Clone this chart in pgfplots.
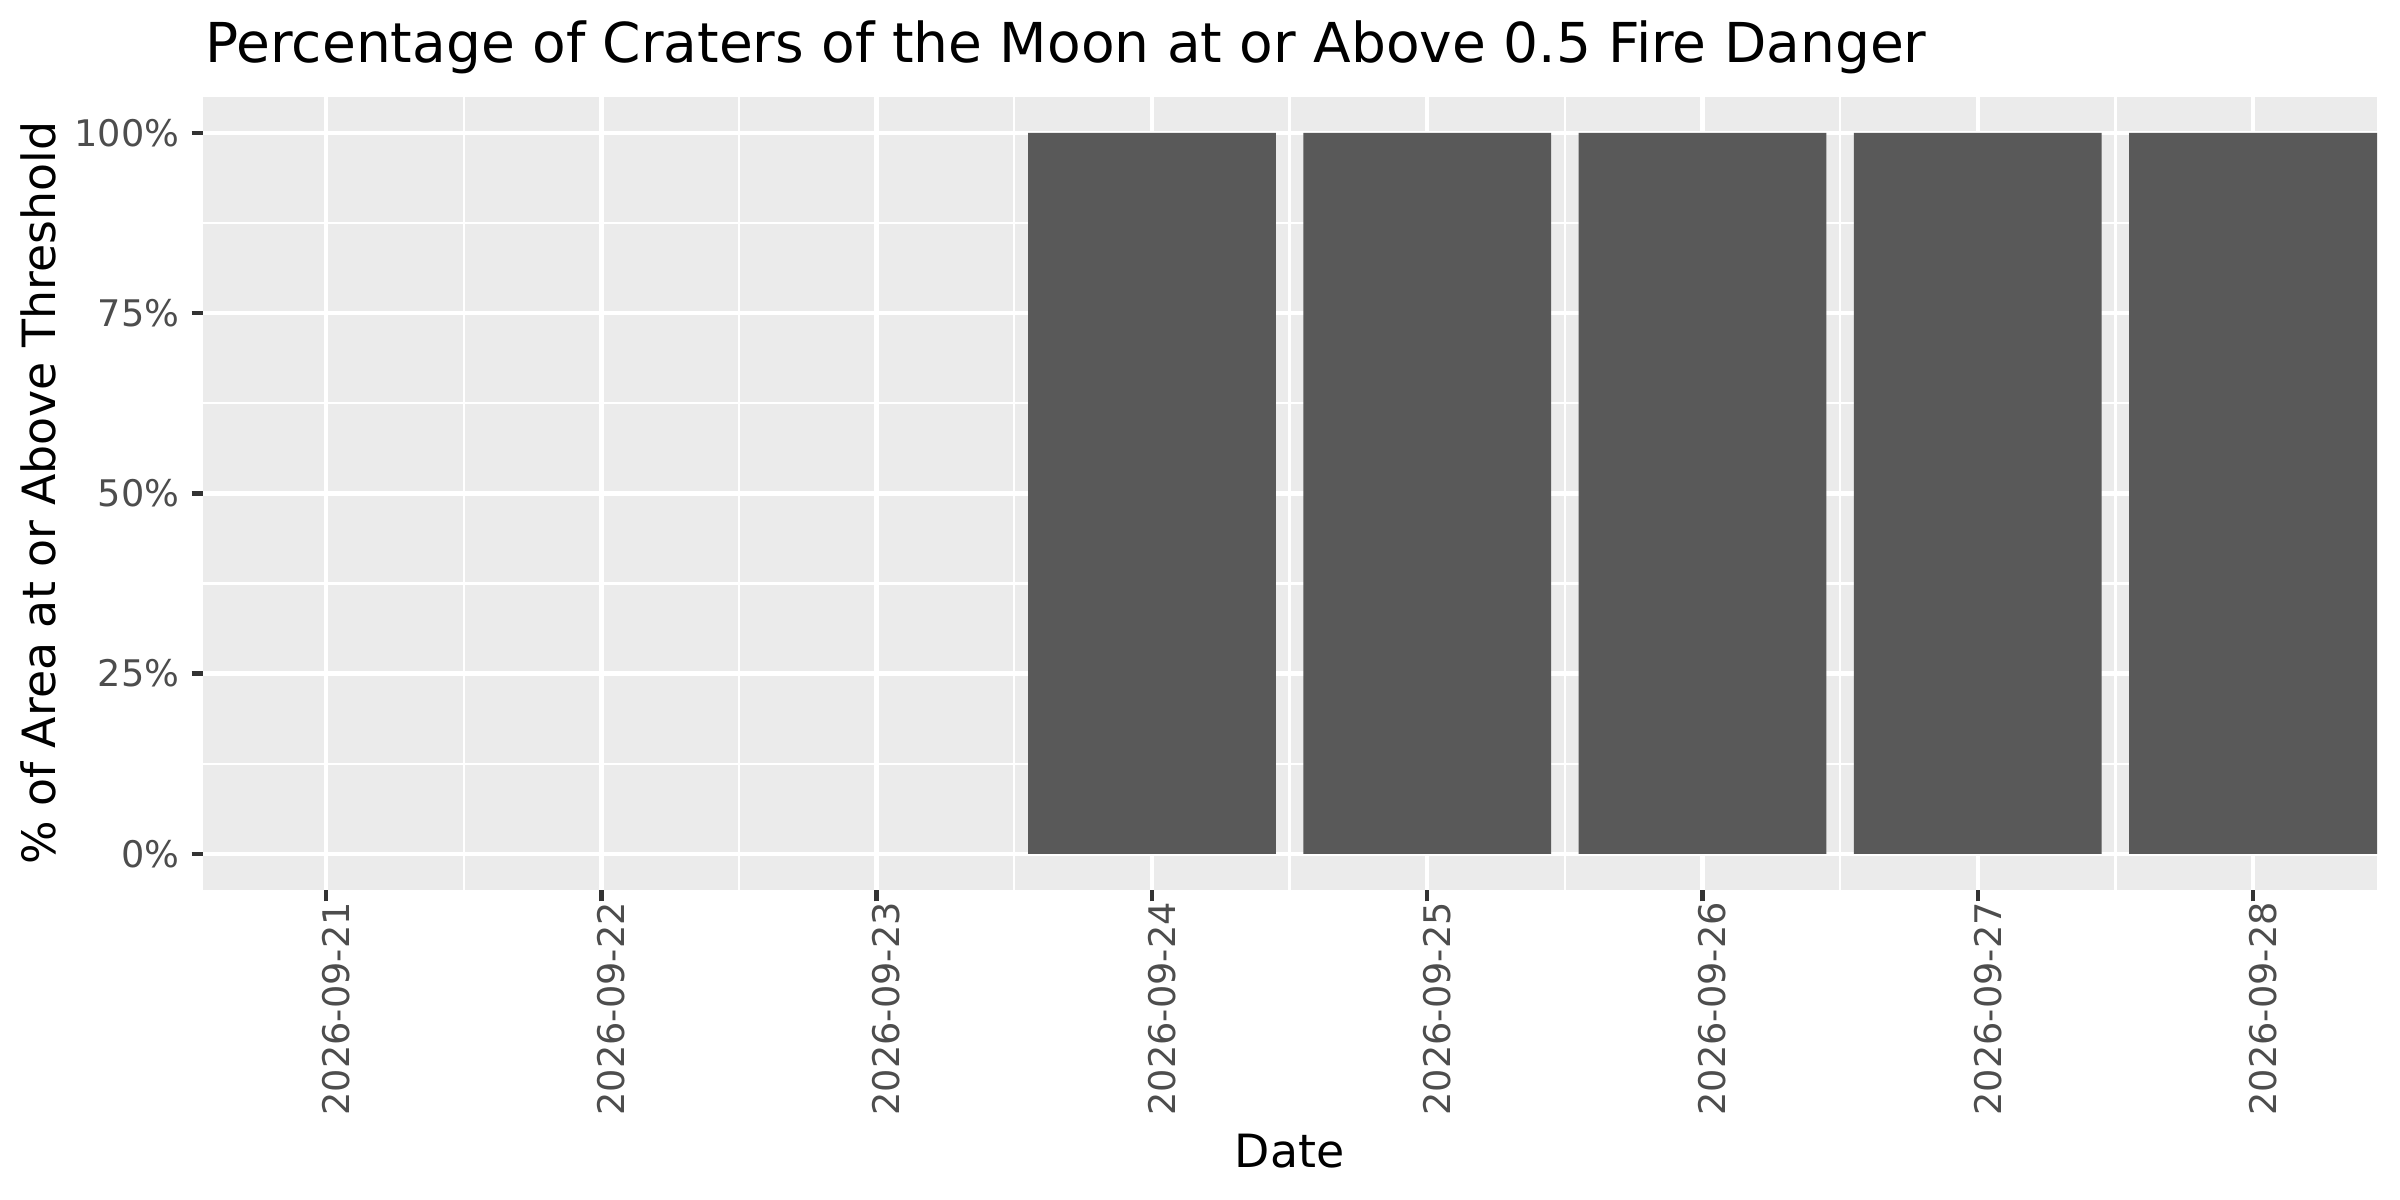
\documentclass[border=0pt]{standalone}
\usepackage{fontspec}
\setmainfont{DejaVu Sans}
\usepackage{pgfplots}
\pgfplotsset{compat=1.18}
\definecolor{panelbg}{HTML}{EBEBEB}
\definecolor{barc}{HTML}{595959}
\definecolor{ticklab}{HTML}{4D4D4D}
\definecolor{tickc}{HTML}{333333}
\begin{document}
\begin{tikzpicture}
\useasboundingbox (-48.72bp,-74.4bp) rectangle (527.28bp,213.6bp);
\begin{axis}[
  at={(0,0)}, anchor=south west,
  scale only axis,
  width=521.76bp, height=190.39bp,
  xmin=-0.447, xmax=7.45,
  ymin=-0.05, ymax=1.05,
  axis background/.style={fill=panelbg},
  axis line style={draw=none},
  tick pos=left,
  tick align=outside,
  major tick length=2.75bp,
  minor tick length=0pt,
  every tick/.style={draw=tickc, line width=1.07bp},
  xtick={0,1,2,3,4,5,6,7},
  xticklabels={2026-09-21,2026-09-22,2026-09-23,2026-09-24,2026-09-25,2026-09-26,2026-09-27,2026-09-28},
  minor xtick={0.5,1.5,2.5,3.5,4.5,5.5,6.5},
  ytick={0,0.25,0.5,0.75,1},
  yticklabels={0\%,25\%,50\%,75\%,100\%},
  minor ytick={0.125,0.375,0.625,0.875},
  grid=both,
  major grid style={draw=white, line width=1.07bp},
  minor grid style={draw=white, line width=0.55bp},
  ticklabel style={font=\fontsize{8.8bp}{10bp}\selectfont, text=ticklab, inner sep=0pt},
  xticklabel style={rotate=90, anchor=east, yshift=-2.4bp},
  yticklabel style={anchor=east, xshift=-2.75bp},
  unbounded coords=discard,
]
\addplot[ybar, bar width=0.9, fill=barc, draw=none,
  y filter/.expression={y==0 ? nan : y}] coordinates {
  (0,0) (1,0) (2,0) (3,1) (4,1) (5,1) (6,1) (7,1)
};
\end{axis}
\node[anchor=base west, inner sep=0pt, font=\fontsize{13.2bp}{15bp}\selectfont] at (0.4bp,198.6bp) {Percentage of Craters of the Moon at or Above 0.5 Fire Danger};
\node[anchor=base, inner sep=0pt, font=\fontsize{11bp}{13bp}\selectfont] at (260.8bp,-66.7bp) {Date};
\node[anchor=base, rotate=90, inner sep=0pt, font=\fontsize{11bp}{13bp}\selectfont] at (-35.5bp,95.2bp) {\% of Area at or Above Threshold};
\end{tikzpicture}
\end{document}
